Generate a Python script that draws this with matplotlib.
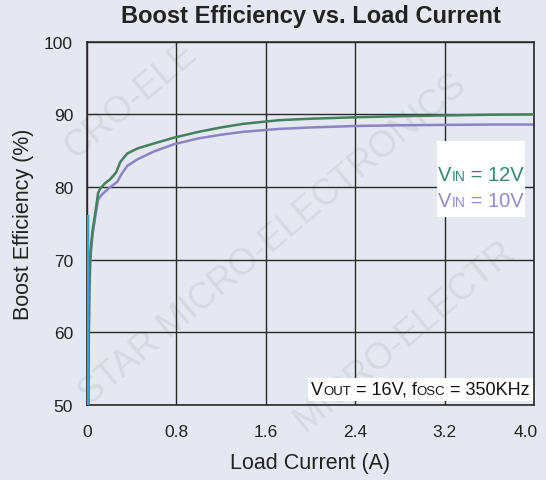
import numpy as np
import matplotlib
matplotlib.use("Agg")
import matplotlib.pyplot as plt
import matplotlib.transforms as mtransforms
from matplotlib.patches import Rectangle
from matplotlib.offsetbox import TextArea, HPacker, VPacker, AnchoredOffsetbox

plt.rcParams['font.family'] = ['Liberation Sans', 'DejaVu Sans']

# --- Datos ---
# V_IN = 12V
x_12v = [0.012, 0.015, 0.02, 0.03, 0.05, 0.07, 0.10, 0.12, 0.16, 0.21, 0.26, 0.30, 0.36,
         0.45, 0.60, 0.78, 1.00, 1.20, 1.40, 1.72, 2.00, 2.40, 2.80, 3.20, 3.60, 4.00]
ef_12v = [50.0, 58.0, 66.0, 71.0, 74.0, 76.0, 79.2, 79.8, 80.5, 81.1, 82.0, 83.5, 84.6,
          85.3, 86.0, 86.8, 87.6, 88.2, 88.7, 89.2, 89.4, 89.6, 89.75, 89.85, 89.95, 90.0]

# V_IN = 10V
x_10v = [0.012, 0.015, 0.02, 0.03, 0.05, 0.07, 0.10, 0.136, 0.20, 0.27, 0.31, 0.36, 0.45,
         0.60, 0.78, 1.00, 1.20, 1.40, 1.72, 2.00, 2.40, 2.80, 3.20, 3.60, 4.00]
ef_10v = [50.0, 57.0, 64.0, 70.0, 73.5, 75.5, 78.3, 79.0, 79.9, 80.7, 81.8, 82.9, 83.8,
          84.9, 85.9, 86.7, 87.2, 87.6, 88.0, 88.2, 88.4, 88.5, 88.55, 88.6, 88.6]

# traza cian casi vertical cerca de 0 A
x_cian = [0.006, 0.010]
ef_cian = [50.0, 76.0]

xticks = [0, 0.8, 1.6, 2.4, 3.2, 4.0]
xlabels = ['0', '0.8', '1.6', '2.4', '3.2', '4.0']
yticks = [50, 60, 70, 80, 90, 100]

bg = '#e5e8f0'
verde = '#447f5e'
morado = '#8a85c2'

fig = plt.figure(figsize=(5.46, 4.81), dpi=100, facecolor=bg)
ax = fig.add_axes([0.1593, 0.1559, 0.8187, 0.7553])
ax.set_facecolor('none')

# marca de agua (tenue, detrás de todo)
marcas = [('STAR MICRO-ELECTRONICS', 0.50, 0.50),
          ('CRO-ELE', 0.24, 0.79),
          ('MICRO-ELECTR', 0.74, 0.30)]
for txt, cx, cy in marcas:
    fig.text(cx, cy, txt, fontsize=26, color='#d6d9e0', rotation=40,
             ha='center', va='center', zorder=-5, rotation_mode='anchor')

ax.plot(x_12v, ef_12v, color=verde, lw=1.8, zorder=3)
ax.plot(x_10v, ef_10v, color=morado, lw=1.8, zorder=2)
ax.plot(x_cian, ef_cian, color='#2aa7df', lw=1.8, zorder=4)

ax.set_xlim(0, 4.0)
ax.set_ylim(50, 100)
ax.set_xticks(xticks)
ax.set_xticklabels(xlabels)
ax.set_yticks(yticks)
ax.tick_params(length=0, labelsize=12.5, colors='#222222')
ax.tick_params(axis='x', pad=14)
ax.tick_params(axis='y', pad=10)
ax.grid(True, color='#2a2a2a', lw=1.0)
for s in ax.spines.values():
    s.set_color('#2a2a2a')
    s.set_linewidth(1.2)

# la etiqueta 4.0 va corrida a la izquierda
lbl = ax.get_xticklabels()[-1]
lbl.set_transform(lbl.get_transform() + mtransforms.ScaledTranslation(-8 / 100, 0, fig.dpi_scale_trans))

ax.set_title('Boost Efficiency vs. Load Current', fontsize=17, fontweight='bold', pad=14, color='#222222')
ax.set_ylabel('Boost Efficiency (%)', fontsize=15.5, color='#222222', labelpad=7)
ax.set_xlabel('Load Current (A)', fontsize=15.5, color='#222222', labelpad=9)


def etiqueta(partes, color):
    return HPacker(children=[TextArea(t, textprops=dict(fontsize=s, color=color)) for t, s in partes],
                   align='baseline', pad=0, sep=0)


# recuadro blanco de la leyenda
ax.add_patch(Rectangle((0.783, 0.517), 0.197, 0.21, transform=ax.transAxes,
                       facecolor='white', edgecolor='none', zorder=5))
leyenda = VPacker(children=[
    etiqueta([('V', 14.5), ('IN', 10), (' = 12V', 14.5)], '#2e8a72'),
    etiqueta([('V', 14.5), ('IN', 10), (' = 10V', 14.5)], '#8f8bcc'),
], align='left', pad=0, sep=5)
caja = AnchoredOffsetbox(loc='upper left', child=leyenda, pad=0, borderpad=0, frameon=False,
                         bbox_to_anchor=(0.785, 0.66), bbox_transform=ax.transAxes)
caja.zorder = 6
ax.add_artist(caja)

nota = etiqueta([('V', 13), ('OUT', 9.5), (' = 16V, f', 13), ('OSC', 9.5), (' = 350KHz', 13)], '#111111')
caja2 = AnchoredOffsetbox(loc='lower right', child=nota, pad=0.2, borderpad=0, frameon=True,
                          bbox_to_anchor=(0.997, 0.012), bbox_transform=ax.transAxes)
caja2.patch.set_facecolor('white')
caja2.patch.set_edgecolor('none')
caja2.zorder = 5
ax.add_artist(caja2)

fig.savefig('out.png', dpi=100, facecolor=bg)
